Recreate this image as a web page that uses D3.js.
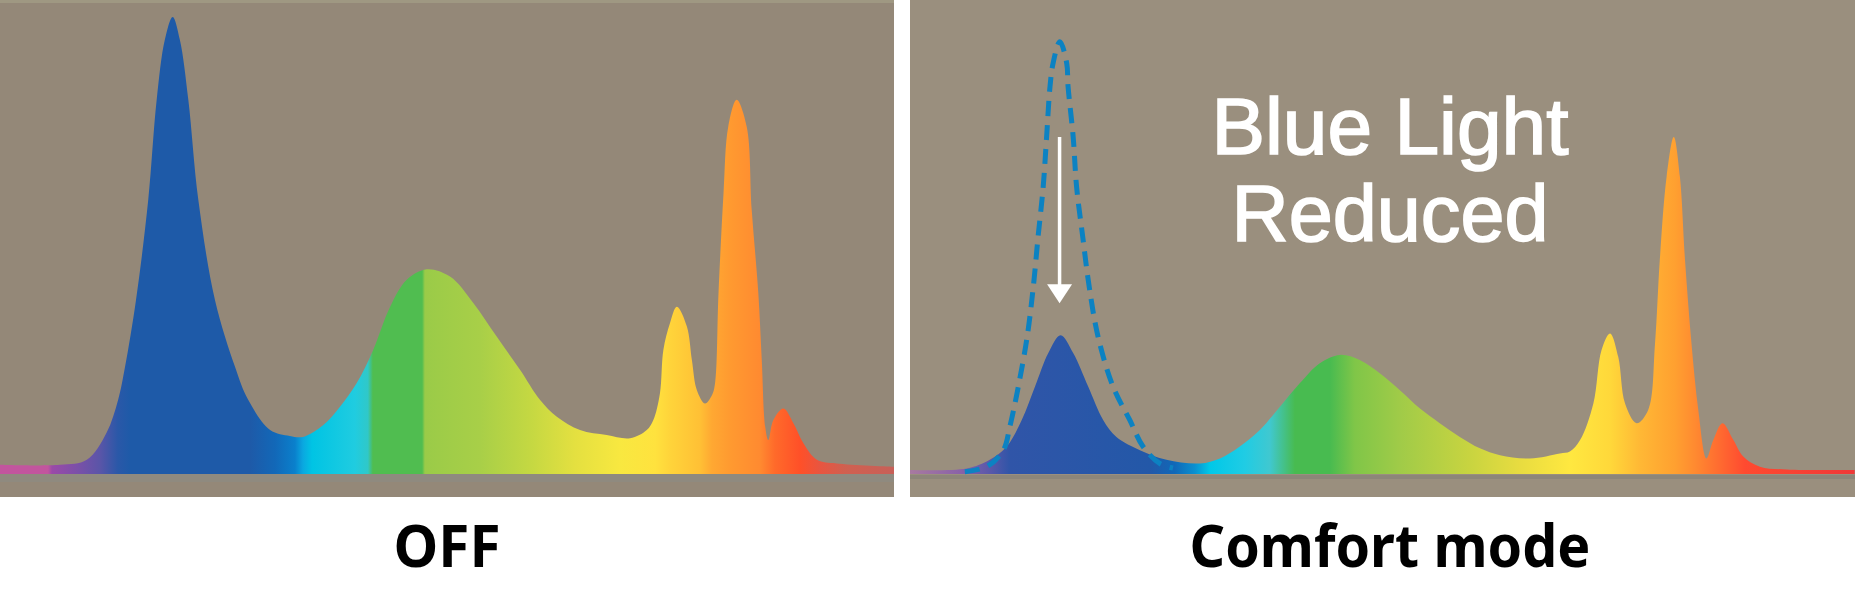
<!DOCTYPE html>
<html><head><meta charset="utf-8">
<script src="https://cdn.jsdelivr.net/npm/d3@7"></script>
<style>html,body{margin:0;padding:0;background:#fff;}svg{display:block;}</style>
</head><body>
<svg id="chart" width="1863" height="593"></svg>
<script>
// ---- Data (wavelength in nm, relative intensity 0-100) ----
const panelTitles = ["OFF", "Comfort mode"];
const annotationLines = ["Blue Light", "Reduced"];

const offWavelength = [394.9,414.0,422.6,428.9,432.6,434.8,438.3,442.2,444.9,447.5,450.0,452.3,455.0,458.2,463.5,469.9,474.1,481.1,487.4,491.6,498.1,503.4,508.7,514.0,519.4,524.7,531.1,538.5,546.0,553.4,560.9,567.2,572.6,580.0,588.5,596.0,601.3,603.4,605.5,606.6,608.7,610.9,614.1,615.7,617.3,619.9,622.1,623.1,624.2,625.8,627.3,630.0,633.2,634.8,636.9,638.0,639.1,640.1,641.7,644.9,648.1,651.3,655.6,661.9,680.2];
const offIntensity  = [2.0,2.0,3.1,9.0,16.2,23.4,38.0,59.8,81.7,94.8,99.8,94.8,81.7,59.8,38.0,23.4,16.2,9.6,8.3,8.1,10.7,14.7,19.8,27.1,36.5,42.4,44.7,43.1,37.3,30.0,22.7,16.2,12.5,9.6,8.5,7.8,9.6,11.8,17.6,27.1,32.9,36.5,32.2,24.9,18.3,15.4,17.2,19.8,39.5,61.3,75.8,81.7,75.8,57.6,39.5,24.9,10.3,7.4,11.8,14.3,11.1,6.7,3.1,2.3,1.6];

const comfortWavelength = [405.8,422.4,429.2,434.2,438.6,442.5,446.4,450.0,453.7,458.1,462.5,466.4,473.3,481.1,490.9,496.8,502.6,508.5,514.4,520.2,526.1,532.0,537.8,543.7,549.6,555.5,561.3,567.2,573.1,579.0,587.8,596.6,599.5,602.5,606.4,608.8,611.3,613.7,615.7,619.1,622.5,624.5,625.9,627.9,630.0,631.8,633.3,635.2,637.2,639.6,641.6,644.3,647.5,650.4,655.3,663.1,683.1];
const comfortIntensity  = [0.9,1.2,3.1,6.0,11.8,19.1,26.4,30.3,26.4,19.1,11.8,8.1,5.2,3.1,2.3,3.4,6.0,9.6,14.7,19.8,24.2,26.0,24.9,22.0,18.3,14.3,11.1,8.1,5.6,4.1,3.4,4.5,4.9,7.4,15.4,27.1,30.7,25.6,15.4,11.1,14.0,28.5,46.7,64.9,73.6,64.9,46.7,28.5,14.0,3.4,7.4,11.1,7.4,3.8,1.6,1.0,0.9];

const originalBlueWavelength = [421.9,428.3,433.2,435.1,437.6,440.2,442.0,443.4,444.9,445.9,446.9,447.8,449.8,451.8,452.2,453.7,454.7,456.5,458.4,461.0,465.4,470.3,474.2,479.1,483.0];
const originalBlueIntensity  = [0.5,1.6,5.2,10.3,19.1,30.0,40.9,51.8,62.7,73.6,84.6,89.7,94.4,89.7,84.6,73.6,62.7,51.8,40.9,30.0,19.1,11.8,6.0,2.3,1.3];

const arrowFrom = 73.6, arrowTo = 37.3, arrowAt = 450;

// colour stops along wavelength for each panel
const offStopWavelength = [394.9,410.2,411.5,419.8,426.8,432.5,436.4,474.7,482.7,489.0,491.6,494.5,508.2,512.3,513.9,529.6,530.5,548.1,564.0,578.4,592.8,604.0,608.7,618.3,622.1,627.9,637.5,642.2,650.2,656.6,664.6,680.2];
const offStopColor = ["#c2559e","#c2559e","#9a4aa8","#7a50a8","#5a55a8","#2a58a8","#1e5aa8","#1e5aa8","#1268b8","#0a80cc","#0aa8e0","#00c4e4","#20cce0","#30c8c8","#50bd50","#50bd50","#9acb48","#a8cf48","#c4d842","#e4e040","#f8e840","#ffe23e","#ffd43a","#ffc035","#ffa832","#ff9a30","#ff8a30","#ff6a2a","#ff5028","#e85540","#d06050","#c86058"];
const comfortStopWavelength = [405.8,420.5,429.2,435.1,476.2,483.5,489.4,493.8,504.1,511.4,518.8,529.0,536.4,549.6,570.1,584.8,599.5,611.3,620.1,630.4,636.2,643.6,650.9,683.2];
const comfortStopColor = ["#a87aa0","#8a62a8","#5a58aa","#3055a8","#2358a8","#1068b8","#0a90d0","#00c8e8","#20cce4","#40c8d0","#48bb50","#48bb50","#80c648","#a0cb48","#c8d440","#e8dc40","#ffe840","#ffd83a","#ffb835","#ffa030","#ff8a30","#ff6a30","#ff4a30","#f03838"];

// ---- Drawing ----
const svg = d3.select("#chart");
const defs = svg.append("defs");
const y = d3.scaleLinear().domain([0, 100]).range([474, 16]);
const curve = d3.curveCatmullRom.alpha(0.5);

const panels = [
  {x0: 0, x1: 894, domain: [394.9, 680.2], bg: "#948878", band: [473, 482, "#8f8a7f"],
   wl: offWavelength, iv: offIntensity, sw: offStopWavelength, sc: offStopColor, title: panelTitles[0], tw: 107, tx: 447},
  {x0: 910, x1: 1855, domain: [405.8, 683.2], bg: "#9a8f7e", band: [475, 479, "#8d8679"],
   wl: comfortWavelength, iv: comfortIntensity, sw: comfortStopWavelength, sc: comfortStopColor, title: panelTitles[1], tw: 401, tx: 1390}
];

panels.forEach((p, i) => {
  const x = d3.scaleLinear().domain(p.domain).range([p.x0, p.x1]);
  p.x = x;
  svg.append("rect").attr("x", p.x0).attr("y", 0).attr("width", p.x1 - p.x0).attr("height", 497).attr("fill", p.bg);
  if (i === 0) svg.append("rect").attr("x", 0).attr("y", 0).attr("width", p.x1).attr("height", 3).attr("fill", "#9f9882");
  svg.append("rect").attr("x", p.x0).attr("y", p.band[0]).attr("width", p.x1 - p.x0).attr("height", p.band[1] - p.band[0]).attr("fill", p.band[2]);

  const g = defs.append("linearGradient").attr("id", "grad" + i)
    .attr("gradientUnits", "userSpaceOnUse")
    .attr("x1", p.x0).attr("x2", p.x1).attr("y1", 0).attr("y2", 0);
  p.sw.forEach((w, k) => {
    g.append("stop").attr("offset", (x(w) - p.x0) / (p.x1 - p.x0)).attr("stop-color", p.sc[k]);
  });

  const data = p.wl.map((w, k) => [w, p.iv[k]]);
  const area = d3.area().x(d => x(d[0])).y0(y(0)).y1(d => y(Math.max(0, d[1]))).curve(curve);
  svg.append("path").datum(data).attr("d", area).attr("fill", `url(#grad${i})`);

  svg.append("text").attr("x", p.tx).attr("y", 567)
    .attr("text-anchor", "middle")
    .attr("font-family", "'Noto Sans', 'Open Sans', sans-serif")
    .attr("font-weight", 700).attr("font-size", 60)
    .attr("textLength", p.tw).attr("lengthAdjust", "spacingAndGlyphs")
    .attr("fill", "#000").text(p.title);
});

// dashed original blue peak on right panel
const xr = panels[1].x;
const dashData = originalBlueWavelength.map((w, k) => [w, originalBlueIntensity[k]]);
svg.append("path").datum(dashData)
  .attr("d", d3.line().x(d => xr(d[0])).y(d => y(d[1])).curve(curve))
  .attr("fill", "none").attr("stroke", "#0c82c2").attr("stroke-width", 5)
  .attr("stroke-dasharray", "15,9");

// arrow
const ax = xr(arrowAt) - 1;
svg.append("line").attr("x1", ax).attr("x2", ax).attr("y1", y(arrowFrom)).attr("y2", y(arrowTo) - 16)
  .attr("stroke", "#fff").attr("stroke-width", 3.5);
const tipY = y(arrowTo);
svg.append("path").attr("d", `M${ax - 12.5},${tipY - 19}L${ax + 12.5},${tipY - 19}L${ax},${tipY}Z`).attr("fill", "#fff");

// annotation text
annotationLines.forEach((t, k) => {
  svg.append("text").attr("x", 1390).attr("y", 154 + k * 87)
    .attr("text-anchor", "middle")
    .attr("font-family", "'Liberation Sans', Arial, sans-serif")
    .attr("font-size", 79).attr("fill", "#fff")
    .attr("stroke", "#fff").attr("stroke-width", 1.6)
    .attr("textLength", k === 0 ? 357 : 317).attr("lengthAdjust", "spacingAndGlyphs")
    .text(t);
});
</script>
</body></html>
